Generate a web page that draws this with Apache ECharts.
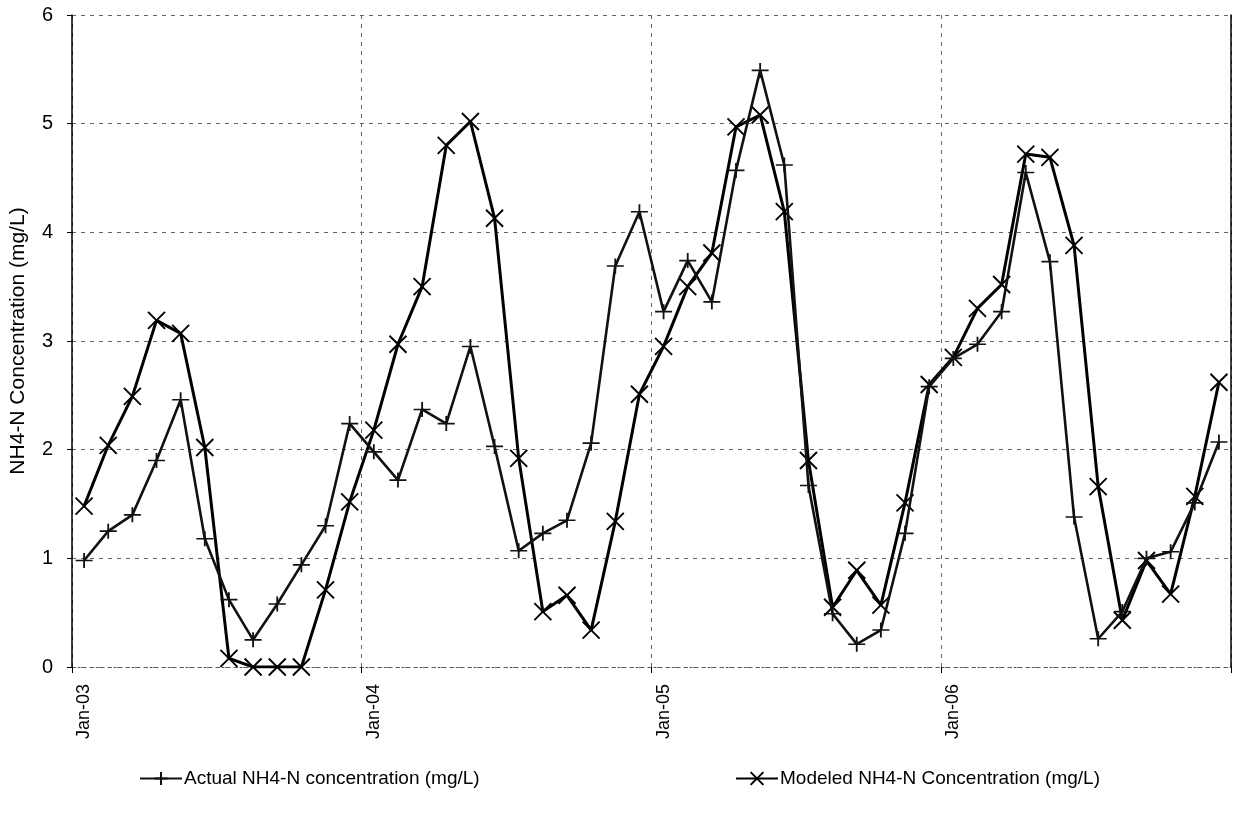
<!DOCTYPE html>
<html>
<head>
<meta charset="utf-8">
<title>NH4-N Concentration</title>
<script src="https://cdn.jsdelivr.net/npm/echarts@6/dist/echarts.min.js"></script>
<style>
  html, body { margin: 0; padding: 0; background: #fff; }
  #chart { width: 1233px; height: 819px; }
</style>
</head>
<body>
<div id="chart"></div>
<script>
// Monthly sampling periods, Jan 2003 - Dec 2006
const months = [
  'Jan-03','Feb-03','Mar-03','Apr-03','May-03','Jun-03','Jul-03','Aug-03','Sep-03','Oct-03','Nov-03','Dec-03',
  'Jan-04','Feb-04','Mar-04','Apr-04','May-04','Jun-04','Jul-04','Aug-04','Sep-04','Oct-04','Nov-04','Dec-04',
  'Jan-05','Feb-05','Mar-05','Apr-05','May-05','Jun-05','Jul-05','Aug-05','Sep-05','Oct-05','Nov-05','Dec-05',
  'Jan-06','Feb-06','Mar-06','Apr-06','May-06','Jun-06','Jul-06','Aug-06','Sep-06','Oct-06','Nov-06','Dec-06'
];

// Measured NH4-N (mg/L)
const actual = [
  0.98, 1.25, 1.40, 1.90, 2.46, 1.18, 0.62, 0.25, 0.58, 0.94, 1.30, 2.24,
  1.98, 1.72, 2.37, 2.24, 2.95, 2.03, 1.07, 1.23, 1.35, 2.06, 3.69, 4.19,
  3.27, 3.74, 3.36, 4.57, 5.49, 4.62, 1.67, 0.49, 0.21, 0.34, 1.23, 2.58,
  2.84, 2.97, 3.27, 4.55, 3.73, 1.38, 0.26, 0.51, 1.00, 1.06, 1.51, 2.07
];

// Model output NH4-N (mg/L)
const modeled = [
  1.48, 2.04, 2.49, 3.19, 3.07, 2.02, 0.08, 0.00, 0.00, 0.00, 0.71, 1.52,
  2.18, 2.97, 3.50, 4.80, 5.02, 4.13, 1.92, 0.51, 0.66, 0.34, 1.34, 2.51,
  2.95, 3.50, 3.81, 4.97, 5.08, 4.19, 1.90, 0.55, 0.89, 0.57, 1.51, 2.60,
  2.85, 3.30, 3.52, 4.72, 4.69, 3.88, 1.66, 0.43, 0.98, 0.67, 1.57, 2.62
];

const yTicks = [0, 1, 2, 3, 4, 5, 6];

const seriesNames = ['Actual NH4-N concentration (mg/L)', 'Modeled NH4-N Concentration (mg/L)'];

const FONT = "'Liberation Sans', Arial, Helvetica, sans-serif";
const plusMark = 'path://M8,0L8,14M0,7L16,7';
const crossMark = 'path://M0,0L16,16M16,0L0,16';

const chart = echarts.init(document.getElementById('chart'), null, { renderer: 'canvas' });

const gridLine = { color: '#666', width: 1, type: [4, 5] };

chart.setOption({
  animation: false,
  backgroundColor: '#fff',
  textStyle: { fontFamily: FONT, color: '#000' },
  grid: { left: 72, right: 2, top: 15, bottom: 152, containLabel: false, outerBoundsMode: 'none' },
  legend: [
    {
      data: [seriesNames[0]],
      left: 134, top: 764,
      itemWidth: 42, itemHeight: 16, itemGap: 0,
      textStyle: { fontFamily: FONT, fontSize: 19, color: '#000', padding: [0, 0, 0, -3] }
    },
    {
      data: [seriesNames[1]],
      left: 730, top: 764,
      itemWidth: 42, itemHeight: 16, itemGap: 0,
      textStyle: { fontFamily: FONT, fontSize: 19, color: '#000', padding: [0, 0, 0, -3] }
    }
  ],
  xAxis: {
    type: 'category',
    data: months,
    boundaryGap: true,
    axisLine: { show: true, lineStyle: { color: '#555', width: 1, type: [2, 4] } },
    axisTick: { show: true, interval: 11, length: 6, lineStyle: { color: '#000' } },
    axisLabel: {
      interval: 11, rotate: 90, margin: 17,
      fontFamily: FONT, fontSize: 18, color: '#000'
    },
    splitLine: { show: true, interval: 11, lineStyle: gridLine }
  },
  yAxis: [
    {
      type: 'value',
      min: yTicks[0], max: yTicks[yTicks.length - 1], interval: 1,
      name: 'NH4-N Concentration (mg/L)',
      nameLocation: 'middle', nameGap: 43, nameRotate: 90,
      nameTextStyle: { fontFamily: FONT, fontSize: 21, color: '#000' },
      axisLine: { show: true, lineStyle: { color: '#000', width: 1.5 } },
      axisTick: { show: true, length: 5, lineStyle: { color: '#000' } },
      axisLabel: { fontFamily: FONT, fontSize: 20, color: '#000', margin: 19 },
      splitLine: { show: true, lineStyle: gridLine }
    },
    {
      type: 'value', position: 'right',
      min: yTicks[0], max: yTicks[yTicks.length - 1], interval: 1,
      axisLine: { show: true, lineStyle: { color: '#000', width: 1.5 } },
      axisTick: { show: false }, axisLabel: { show: false }, splitLine: { show: false }
    }
  ],
  series: [
    {
      name: seriesNames[0],
      type: 'line',
      data: actual,
      showAllSymbol: true,
      symbol: plusMark, symbolSize: [17, 15],
      lineStyle: { color: '#111', width: 2.6 },
      itemStyle: { color: '#111', borderColor: '#111', borderWidth: 1.7 },
      z: 3
    },
    {
      name: seriesNames[1],
      type: 'line',
      data: modeled,
      showAllSymbol: true,
      symbol: crossMark, symbolSize: 17,
      lineStyle: { color: '#000', width: 3 },
      itemStyle: { color: '#000', borderColor: '#000', borderWidth: 1.9 },
      z: 2
    }
  ]
});
</script>
</body>
</html>
